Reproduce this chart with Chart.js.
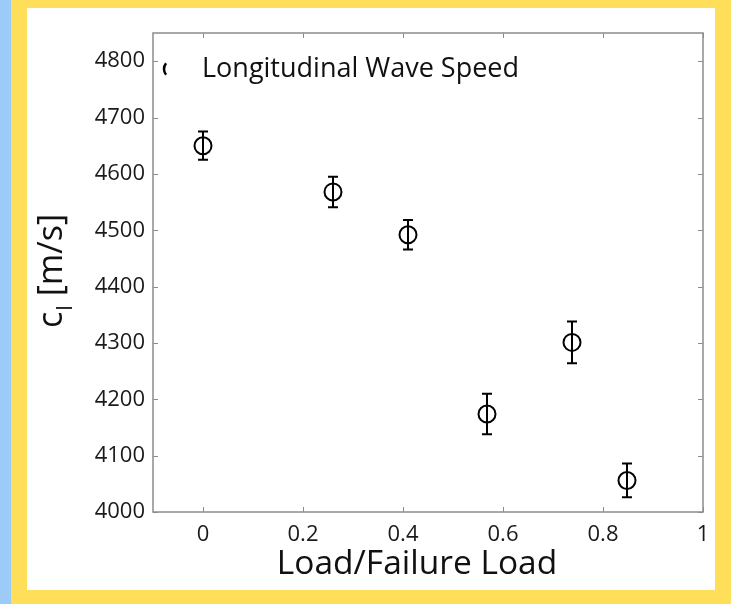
<!DOCTYPE html>
<html>
<head>
<meta charset="utf-8">
<script src="https://cdn.jsdelivr.net/npm/chart.js@4.4.1/dist/chart.umd.min.js"></script>
<style>
  html, body { margin: 0; padding: 0; }
  body { width: 731px; height: 604px; background: #ffde59; position: relative; overflow: hidden; }
  #strip { position: absolute; left: 0; top: 0; width: 11px; height: 604px; background: #9dcbf7; }
  #panel { position: absolute; left: 27px; top: 8px; width: 688px; height: 582px; background: #ffffff; }
</style>
</head>
<body>
<div id="strip"></div>
<div id="panel"><canvas id="chart" width="688" height="582"></canvas></div>
<script>
// load ratio vs. longitudinal wave speed
const loadRatio = [0, 0.26, 0.41, 0.568, 0.738, 0.848];
const waveSpeed = [4650, 4568, 4492, 4174, 4301, 4056];
const speedErr = [25, 27, 26, 36, 37, 30];
const xTicks = [0, 0.2, 0.4, 0.6, 0.8, 1];
const xTickLabels = ['0', '0.2', '0.4', '0.6', '0.8', '1'];
const yTicks = [4000, 4100, 4200, 4300, 4400, 4500, 4600, 4700, 4800];

const points = loadRatio.map((x, i) => ({ x: x, y: waveSpeed[i] }));
const font = '"Open Sans", sans-serif';
const boxColor = '#8c8c8c';

// box, inward ticks, error bars, legend and axis titles
const decorations = {
    id: 'decorations',
    afterDraw(chart) {
        const ctx = chart.ctx;
        const area = chart.chartArea;
        const xs = chart.scales.x;
        const ys = chart.scales.y;

        ctx.save();
        ctx.strokeStyle = boxColor;
        ctx.lineWidth = 1.5;
        ctx.strokeRect(area.left, area.top, area.right - area.left, area.bottom - area.top);
        ctx.lineWidth = 1;
        ctx.beginPath();
        xTicks.forEach(v => {
            const px = Math.round(xs.getPixelForValue(v)) + 0.5;
            ctx.moveTo(px, area.bottom); ctx.lineTo(px, area.bottom - 5);
            ctx.moveTo(px, area.top); ctx.lineTo(px, area.top + 5);
        });
        yTicks.forEach(v => {
            const py = Math.round(ys.getPixelForValue(v)) + 0.5;
            ctx.moveTo(area.left, py); ctx.lineTo(area.left + 5, py);
            ctx.moveTo(area.right, py); ctx.lineTo(area.right - 5, py);
        });
        ctx.stroke();

        // error bars
        ctx.strokeStyle = '#000';
        ctx.lineWidth = 2;
        ctx.beginPath();
        loadRatio.forEach((x, i) => {
            const px = xs.getPixelForValue(x);
            const top = ys.getPixelForValue(waveSpeed[i] + speedErr[i]);
            const bot = ys.getPixelForValue(waveSpeed[i] - speedErr[i]);
            ctx.moveTo(px, top); ctx.lineTo(px, bot);
            ctx.moveTo(px - 5, top); ctx.lineTo(px + 5, top);
            ctx.moveTo(px - 5, bot); ctx.lineTo(px + 5, bot);
        });
        ctx.stroke();

        // legend (marker mostly hidden behind the label box)
        ctx.lineWidth = 2.5;
        ctx.beginPath();
        ctx.arc(area.left + 20, area.top + 36, 9, Math.PI * 0.78, Math.PI * 1.22);
        ctx.stroke();
        ctx.fillStyle = '#111';
        ctx.font = '27px ' + font;
        ctx.textAlign = 'left';
        ctx.textBaseline = 'alphabetic';
        ctx.fillText('Longitudinal Wave Speed', area.left + 49, area.top + 44);

        // x title
        ctx.font = '33.5px ' + font;
        ctx.textAlign = 'center';
        ctx.fillText('Load/Failure Load', 390, 566);

        // y title with subscript
        ctx.translate(35, 0);
        ctx.rotate(-Math.PI / 2);
        ctx.textAlign = 'left';
        ctx.font = '34px ' + font;
        const startY = -320;
        ctx.fillText('c', startY, 0);
        const cw = ctx.measureText('c').width;
        ctx.font = '22px ' + font;
        ctx.fillText('l', startY + cw + 1, 10);
        const lw = ctx.measureText('l').width;
        ctx.font = '34px ' + font;
        ctx.fillText(' [m/s]', startY + cw + lw + 1, 0);
        ctx.restore();
    }
};

new Chart(document.getElementById('chart'), {
    type: 'scatter',
    data: {
        datasets: [{
            label: 'Longitudinal Wave Speed',
            data: points,
            pointStyle: 'circle',
            pointRadius: 8.5,
            pointHoverRadius: 8.5,
            borderColor: '#000',
            borderWidth: 2,
            backgroundColor: 'rgba(0,0,0,0)'
        }]
    },
    options: {
        responsive: false,
        animation: false,
        layout: { padding: { left: 0, top: 25, right: 12, bottom: 0 } },
        plugins: {
            legend: { display: false },
            tooltip: { enabled: false }
        },
        scales: {
            x: {
                type: 'linear',
                min: -0.1,
                max: 1,
                afterBuildTicks: s => { s.ticks = xTicks.map(v => ({ value: v })); },
                afterFit: s => { s.height = 78; s.paddingLeft = 0; s.paddingRight = 0; },
                grid: { display: false, drawTicks: false },
                border: { display: false },
                ticks: {
                    padding: 10,
                    color: '#1a1a1a',
                    font: { family: font, size: 22 },
                    maxRotation: 0,
                    callback: (v, i) => xTickLabels[i]
                }
            },
            y: {
                type: 'linear',
                min: 4000,
                max: 4850,
                afterBuildTicks: s => { s.ticks = yTicks.map(v => ({ value: v })); },
                afterFit: s => { s.width = 126; s.paddingTop = 0; s.paddingBottom = 0; },
                grid: { display: false, drawTicks: false },
                border: { display: false },
                ticks: {
                    padding: 8,
                    color: '#1a1a1a',
                    font: { family: font, size: 22 },
                    callback: v => String(v)
                }
            }
        }
    },
    plugins: [decorations]
});
</script>
</body>
</html>
